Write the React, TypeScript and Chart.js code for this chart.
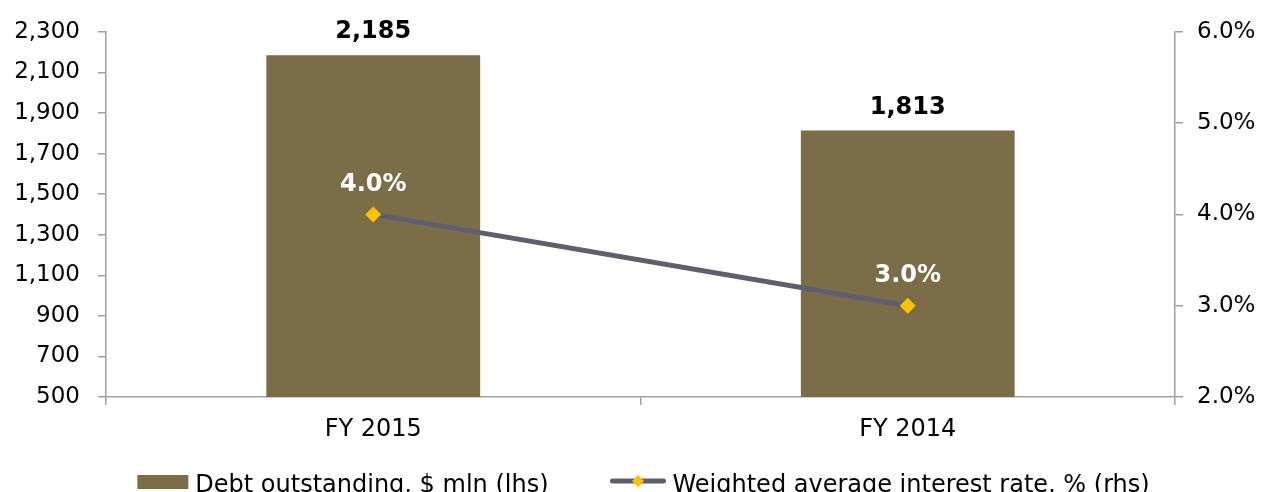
import React, { useEffect, useRef } from "react";
import { Chart, registerables } from "chart.js";

Chart.register(...registerables);

const categories = ["FY 2015", "FY 2014"];
const debtOutstanding = [2185, 1813];
const interestRate = [4.0, 3.0];
const seriesNames = ["Debt outstanding, $ mln (lhs)", "Weighted average interest rate, % (rhs)"];
const leftAxisRange = [500, 2300, 200];
const rightAxisRange = [2, 6, 1];

const BAR_COLOR = "#7B6D48";
const LINE_COLOR = "#5F5E6E";
const MARKER_COLOR = "#FFC000";
const AXIS_COLOR = "#A0A0A0";
const FONT = "'DejaVu Sans', Verdana, sans-serif";

const dataLabelPlugin = {
  id: "dataLabels",
  afterDatasetsDraw(chart: any) {
    const ctx = chart.ctx;
    ctx.save();
    ctx.textAlign = "center";
    ctx.textBaseline = "alphabetic";
    ctx.font = `bold 24px ${FONT}`;
    const barMeta = chart.getDatasetMeta(1);
    barMeta.data.forEach((bar: any, i: number) => {
      ctx.fillStyle = "#000000";
      ctx.fillText(debtOutstanding[i].toLocaleString("en-US"), bar.x, bar.y - 17);
    });
    const lineMeta = chart.getDatasetMeta(0);
    lineMeta.data.forEach((pt: any, i: number) => {
      ctx.fillStyle = "#FFFFFF";
      ctx.fillText(interestRate[i].toFixed(1) + "%", pt.x, pt.y - 23.5);
    });
    ctx.restore();
  },
};

const legendPlugin = {
  id: "customLegend",
  afterDraw(chart: any) {
    const ctx = chart.ctx;
    const area = chart.chartArea;
    ctx.save();
    ctx.font = `24px ${FONT}`;
    const w1 = ctx.measureText(seriesNames[0]).width;
    const w2 = ctx.measureText(seriesNames[1]).width;
    const boxW = 51;
    const lineW = 55;
    const gap = 7;
    const itemGap = 62;
    const total = boxW + gap + w1 + itemGap + lineW + gap + w2;
    let x = (area.left + area.right) / 2 + 3 - total / 2;
    const baseY = 492;
    ctx.fillStyle = BAR_COLOR;
    ctx.fillRect(x, 475, boxW, 14);
    x += boxW + gap;
    ctx.fillStyle = "#000000";
    ctx.textBaseline = "alphabetic";
    ctx.textAlign = "left";
    ctx.fillText(seriesNames[0], x, baseY);
    x += w1 + itemGap;
    ctx.strokeStyle = LINE_COLOR;
    ctx.lineWidth = 5;
    ctx.lineCap = "round";
    ctx.beginPath();
    ctx.moveTo(x + 2, 481);
    ctx.lineTo(x + lineW - 2, 481);
    ctx.stroke();
    const cx = x + lineW / 2;
    ctx.fillStyle = MARKER_COLOR;
    ctx.beginPath();
    ctx.moveTo(cx, 475);
    ctx.lineTo(cx + 6, 481);
    ctx.lineTo(cx, 487);
    ctx.lineTo(cx - 6, 481);
    ctx.closePath();
    ctx.fill();
    x += lineW + gap;
    ctx.fillStyle = "#000000";
    ctx.fillText(seriesNames[1], x, baseY);
    ctx.restore();
  },
};

export default function App() {
  const ref = useRef<HTMLCanvasElement | null>(null);
  useEffect(() => {
    document.body.style.margin = "0";
    if (!ref.current) return;
    Chart.defaults.font.family = FONT;
    Chart.defaults.font.size = 23;
    Chart.defaults.color = "#000000";
    const chart = new Chart(ref.current, {
      type: "bar",
      data: {
        labels: categories,
        datasets: [
          {
            type: "line",
            label: seriesNames[1],
            data: interestRate,
            yAxisID: "y1",
            borderColor: LINE_COLOR,
            borderWidth: 5,
            pointStyle: "rectRot",
            pointRadius: 8,
            pointBackgroundColor: MARKER_COLOR,
            pointBorderColor: MARKER_COLOR,
            pointBorderWidth: 0,
            tension: 0,
            order: 0,
          } as any,
          {
            type: "bar",
            label: seriesNames[0],
            data: debtOutstanding,
            yAxisID: "y",
            backgroundColor: BAR_COLOR,
            borderWidth: 0,
            barPercentage: 0.4,
            categoryPercentage: 1,
            order: 1,
          },
        ],
      },
      options: {
        responsive: false,
        animation: false,
        layout: { padding: { top: 30, bottom: 35, left: 0, right: 0 } },
        plugins: { legend: { display: false }, tooltip: { enabled: false } },
        scales: {
          x: {
            offset: true,
            grid: {
              offset: true,
              drawOnChartArea: false,
              drawTicks: true,
              tickLength: 8,
              color: AXIS_COLOR,
              lineWidth: 1.5,
            },
            border: { color: AXIS_COLOR, width: 1.5 },
            ticks: { padding: 10, color: "#000000", font: { size: 24 } },
            afterFit(scale: any) {
              scale.height = 60;
            },
          },
          y: {
            position: "left",
            min: leftAxisRange[0],
            max: leftAxisRange[1],
            grid: { drawOnChartArea: false, tickLength: 8, color: AXIS_COLOR, lineWidth: 1.5 },
            border: { color: AXIS_COLOR, width: 1.5 },
            ticks: {
              stepSize: leftAxisRange[2],
              padding: 18,
              color: "#000000",
              font: { size: 23 },
              callback: (v: any) => Number(v).toLocaleString("en-US"),
            },
            afterFit(scale: any) {
              scale.width = 106;
            },
          },
          y1: {
            position: "right",
            min: rightAxisRange[0],
            max: rightAxisRange[1],
            grid: { drawOnChartArea: false, tickLength: 8, color: AXIS_COLOR, lineWidth: 1.5 },
            border: { color: AXIS_COLOR, width: 1.5 },
            ticks: {
              stepSize: rightAxisRange[2],
              padding: 14,
              color: "#000000",
              font: { size: 23 },
              callback: (v: any) => Number(v).toFixed(1) + "%",
            },
            afterFit(scale: any) {
              scale.width = 91;
            },
          },
        },
      },
      plugins: [dataLabelPlugin, legendPlugin],
    });
    return () => chart.destroy();
  }, []);
  return (
    <div style={{ position: "absolute", left: 0, top: 0, width: 1266, height: 492 }}>
      <canvas ref={ref} width={1266} height={492} />
    </div>
  );
}
